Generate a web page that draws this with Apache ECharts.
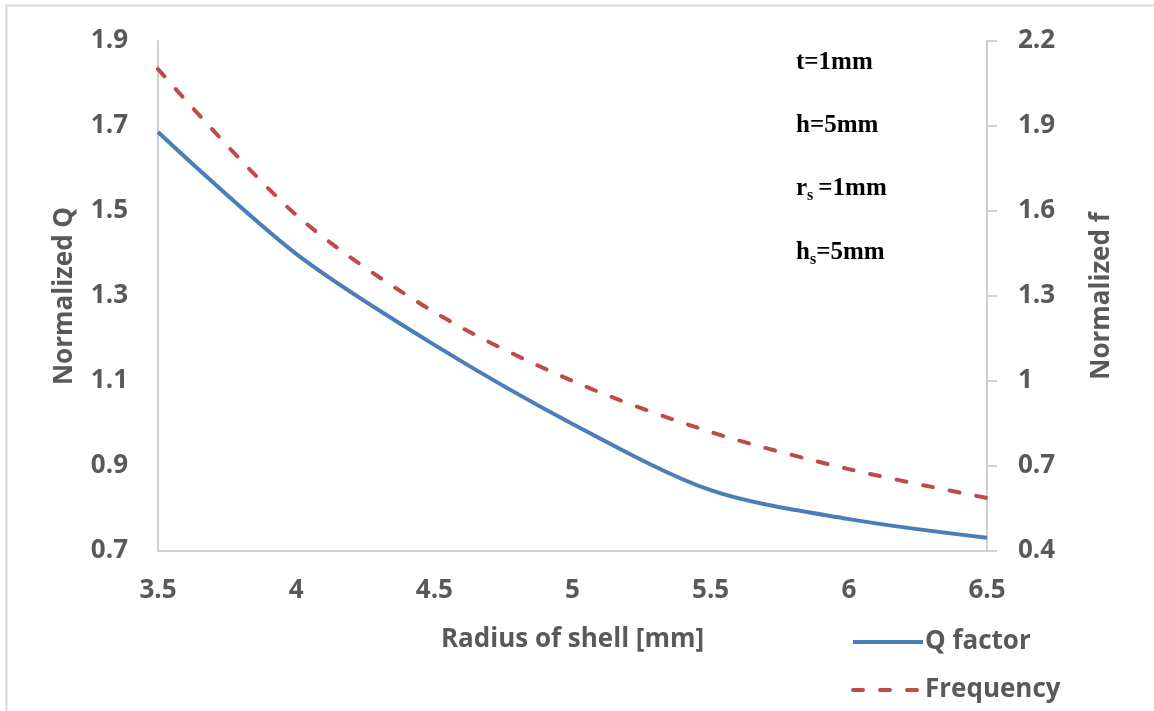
<!DOCTYPE html>
<html>
  <head>
    <meta charset="UTF-8">
    <script src="https://cdn.jsdelivr.net/npm/echarts@6/dist/echarts.min.js"></script>
    <title>Normalized Q and f</title>
    <style>
      html, body { margin: 0; padding: 0; background: #fff; }
    </style>
  </head>
  <body>
    <div id="main" style="width: 1154px;height:711px;"></div>
    <script type="text/javascript">
      // radius of shell [mm]
      var radius = [3.5, 4, 4.5, 5, 5.5, 6, 6.5];
      // normalized Q factor (left axis)
      var qFactor = [1.686, 1.399, 1.185, 0.999, 0.843, 0.775, 0.731];
      // normalized frequency (right axis)
      var frequency = [2.101, 1.586, 1.243, 1.0, 0.820, 0.689, 0.587];

      var textColor = '#595959';
      var axisGray = '#d0d0d0';
      var labelFont = '"Open Sans", sans-serif';

      var myChart = echarts.init(document.getElementById('main'));

      function pairs(xs, ys) {
        return xs.map(function (x, i) { return [x, ys[i]]; });
      }

      var titleStyle = { color: textColor, fontSize: 26, fontWeight: 'bold', fontFamily: labelFont };

      var option = {
        animation: false,
        backgroundColor: '#fff',
        grid: { left: 158, right: 167, top: 41, bottom: 160 },
        legend: {
          orient: 'vertical',
          left: 846,
          top: 624,
          itemWidth: 70,
          itemHeight: 4,
          itemGap: 22,
          lineStyle: { width: 4 },
          textStyle: { color: textColor, fontSize: 26, fontWeight: 'bold', fontFamily: labelFont, padding: [0, 0, 0, -3] },
          data: ['Q factor', 'Frequency']
        },
        xAxis: {
          type: 'value',
          min: 3.5,
          max: 6.5,
          interval: 0.5,
          name: 'Radius of shell [mm]',
          nameLocation: 'middle',
          nameGap: 76,
          nameMoveOverlap: false,
          nameTextStyle: titleStyle,
          axisLine: { show: true, lineStyle: { color: axisGray, width: 2 } },
          axisTick: { show: false },
          splitLine: { show: false },
          axisLabel: { color: textColor, fontSize: 26, fontWeight: 'bold', fontFamily: labelFont, margin: 27 }
        },
        yAxis: [{
          type: 'value',
          position: 'left',
          min: 0.7,
          max: 1.9,
          interval: 0.2,
          name: 'Normalized Q',
          nameLocation: 'middle',
          nameRotate: 90,
          nameGap: 80,
          nameMoveOverlap: false,
          nameTextStyle: titleStyle,
          axisLine: { show: true, lineStyle: { color: axisGray, width: 2 } },
          axisTick: { show: false },
          splitLine: { show: false },
          axisLabel: { color: textColor, fontSize: 26, fontWeight: 'bold', fontFamily: labelFont, margin: 30 }
        }, {
          type: 'value',
          position: 'right',
          min: 0.4,
          max: 2.2,
          interval: 0.3,
          name: 'Normalized f',
          nameLocation: 'middle',
          nameRotate: 90,
          nameGap: 102,
          nameMoveOverlap: false,
          nameTextStyle: titleStyle,
          axisLine: { show: true, lineStyle: { color: axisGray, width: 2 } },
          axisTick: { show: true, length: 10, lineStyle: { color: axisGray, width: 2 } },
          splitLine: { show: false },
          axisLabel: { color: textColor, fontSize: 26, fontWeight: 'bold', fontFamily: labelFont, margin: 31 }
        }],
        graphic: [{
          type: 'rect',
          shape: { x: 6.5, y: 5.5, width: 1200, height: 800 },
          style: { fill: 'none', stroke: '#d9d9d9', lineWidth: 2 },
          silent: true
        }, {
          type: 'text',
          left: 796, top: 50,
          style: { text: 't=1mm', fill: '#000', font: 'bold 25px "Liberation Serif", serif' }
        }, {
          type: 'text',
          left: 796, top: 113,
          style: { text: 'h=5mm', fill: '#000', font: 'bold 25px "Liberation Serif", serif' }
        }, {
          type: 'text',
          left: 796, top: 176,
          style: {
            text: '{m|r}{s|s}{m|=1mm}',
            rich: {
              m: { fill: '#000', font: 'bold 25px "Liberation Serif", serif', verticalAlign: 'bottom' },
              s: { fill: '#000', font: 'bold 16px "Liberation Serif", serif', verticalAlign: 'bottom', padding: [0, 5, -3, 0] }
            }
          }
        }, {
          type: 'text',
          left: 796, top: 240,
          style: {
            text: '{m|h}{s|s}{m|=5mm}',
            rich: {
              m: { fill: '#000', font: 'bold 25px "Liberation Serif", serif', verticalAlign: 'bottom' },
              s: { fill: '#000', font: 'bold 16px "Liberation Serif", serif', verticalAlign: 'bottom', padding: [0, 0, -3, 0] }
            }
          }
        }],
        series: [{
          name: 'Q factor',
          type: 'line',
          yAxisIndex: 0,
          smooth: 0.3,
          symbol: 'none',
          lineStyle: { color: '#4a7ebb', width: 4 },
          itemStyle: { color: '#4a7ebb' },
          data: pairs(radius, qFactor)
        }, {
          name: 'Frequency',
          type: 'line',
          yAxisIndex: 1,
          smooth: 0.3,
          symbol: 'none',
          lineStyle: { color: '#be4b48', width: 4, type: [10, 17], cap: 'round' },
          itemStyle: { color: '#be4b48' },
          data: pairs(radius, frequency)
        }]
      };

      myChart.setOption(option);
    </script>
  </body>
</html>
